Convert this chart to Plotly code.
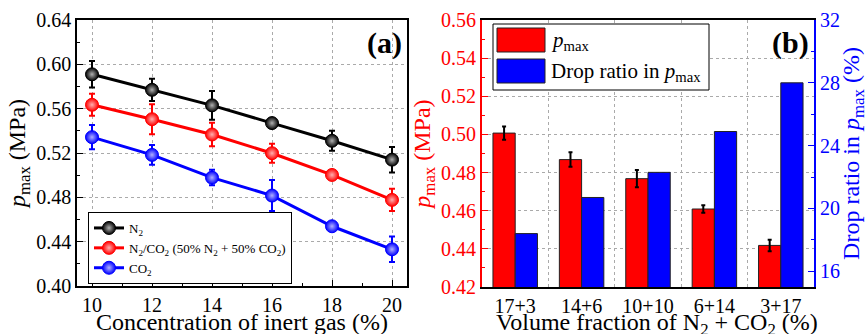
import plotly.graph_objects as go

# ---------------- data ----------------
conc = [10, 12, 14, 16, 18, 20]
n2 = [0.591, 0.577, 0.563, 0.547, 0.531, 0.514]
n2_err = [0.012, 0.010, 0.013, 0.0035, 0.009, 0.0115]
mix = [0.5635, 0.5505, 0.5367, 0.5198, 0.5002, 0.4777]
mix_err = [0.010, 0.0135, 0.0105, 0.0085, 0.003, 0.010]
co2 = [0.5343, 0.5183, 0.4978, 0.4816, 0.4539, 0.4331]
co2_err = [0.011, 0.009, 0.007, 0.014, 0.003, 0.0115]

frac_labels = ["17+3", "14+6", "10+10", "6+14", "3+17"]
pmax_b = [0.5007, 0.4868, 0.4768, 0.4609, 0.4418]
pmax_b_err = [0.0035, 0.0038, 0.0045, 0.002, 0.003]
drop_ratio = [18.4, 20.7, 22.3, 24.9, 28.0]

FONT = "Liberation Serif"
W, H = 868, 334


def px(x):
    return x / W


def py(y):
    return 1 - y / H


fig = go.Figure()

series = [
    (n2, n2_err, "black", "#b0b0b0", "N<sub>2</sub>"),
    (mix, mix_err, "#ff0000", "#ffb0b0", "N<sub>2</sub>/CO<sub>2</sub> (50% N<sub>2</sub> + 50% CO<sub>2</sub>)"),
    (co2, co2_err, "#0000ff", "#b0b0ff", "CO<sub>2</sub>"),
]
for vals, errs, col, hl, name in series:
    fig.add_trace(go.Scatter(
        x=conc, y=vals, name=name, mode="lines+markers",
        line=dict(color=col, width=3),
        marker=dict(size=13, color=col, symbol="circle",
                    gradient=dict(type="radial", color=hl),
                    line=dict(color=col, width=1)),
        error_y=dict(type="data", array=errs, visible=True, color=col,
                     thickness=2, width=3),
        xaxis="x", yaxis="y", legend="legend",
    ))

idx = list(range(len(frac_labels)))
fig.add_trace(go.Bar(
    x=idx, y=pmax_b, name="pmax", offset=-0.335, width=0.335,
    marker=dict(color="#ff0000", line=dict(color="#222222", width=1)),
    error_y=dict(type="data", array=pmax_b_err, visible=True, color="black",
                 thickness=2, width=2),
    xaxis="x2", yaxis="y3", showlegend=False,
))
fig.add_trace(go.Bar(
    x=idx, y=drop_ratio, name="Drop ratio", offset=0.0, width=0.335,
    marker=dict(color="#0000ff", line=dict(color="#222222", width=1)),
    xaxis="x2", yaxis="y4", showlegend=False,
))

grid = dict(showgrid=True, gridcolor="#aaaaaa", griddash="dot", gridwidth=1)
tickf = dict(family=FONT, size=20, color="black")
titlef = dict(family=FONT, size=24, color="black")

fig.update_layout(
    width=W, height=H,
    margin=dict(l=0, r=0, t=0, b=0),
    paper_bgcolor="white", plot_bgcolor="white",
    barmode="overlay",
    font=dict(family=FONT, color="black"),
    xaxis=dict(
        domain=[px(77), px(407)], range=[9.5, 20.5], anchor="y",
        tickvals=conc, ticks="inside", ticklen=6, tickcolor="black",
        showline=True, linecolor="black", linewidth=1.5, mirror=True,
        tickfont=tickf, automargin=False,
        minor=dict(tickvals=[11, 13, 15, 17, 19], ticks="inside", ticklen=3, tickcolor="black"),
        zeroline=False, **grid,
    ),
    yaxis=dict(
        domain=[py(286), py(20)], range=[0.40, 0.64], anchor="x",
        tick0=0.40, dtick=0.04, tickformat=".2f",
        ticks="inside", ticklen=6, tickcolor="black",
        showline=True, linecolor="black", linewidth=1.5, mirror=True,
        tickfont=tickf, automargin=False,
        minor=dict(tick0=0.42, dtick=0.04, ticks="inside", ticklen=3, tickcolor="black"),
        title=dict(text="<i>p</i><sub>max</sub> (MPa)", font=titlef, standoff=4),
        zeroline=False, **grid,
    ),
    xaxis2=dict(
        domain=[px(482), px(814)], range=[-0.5, 4.5], anchor="y3",
        tickvals=idx, ticktext=frac_labels, ticks="",
        showline=True, linecolor="black", linewidth=1.5, mirror=True,
        tickfont=tickf, automargin=False, showgrid=False, zeroline=False,
        minor=dict(tickvals=[0.5, 1.5, 2.5, 3.5], ticks="", showgrid=True,
                   gridcolor="#aaaaaa", griddash="dot", gridwidth=1),
    ),
    yaxis3=dict(
        domain=[py(287), py(20)], range=[0.42, 0.56], anchor="x2", side="left",
        tick0=0.42, dtick=0.02, tickformat=".2f",
        ticks="inside", ticklen=6, tickcolor="#ff0000",
        showline=True, linecolor="#ff0000", linewidth=2,
        tickfont=dict(family=FONT, size=20, color="#ff0000"), automargin=False,
        minor=dict(tick0=0.43, dtick=0.02, ticks="inside", ticklen=3, tickcolor="#ff0000"),
        title=dict(text="<i>p</i><sub>max</sub> (MPa)", font=dict(family=FONT, size=24, color="#ff0000"), standoff=4),
        zeroline=False, **grid,
    ),
    yaxis4=dict(
        range=[15, 32], anchor="x2", overlaying="y3", side="right",
        tickvals=[16, 20, 24, 28, 32],
        ticks="inside", ticklen=6, tickcolor="#0000ff",
        showline=True, linecolor="#0000ff", linewidth=2,
        tickfont=dict(family=FONT, size=20, color="#0000ff"), automargin=False,
        minor=dict(tickvals=[18, 22, 26, 30], ticks="inside", ticklen=3, tickcolor="#0000ff"),
        title=dict(text="Drop ratio in <i>p</i><sub>max</sub> (%)", font=dict(family=FONT, size=24, color="#0000ff"), standoff=6),
        showgrid=False, zeroline=False,
    ),
    legend=dict(
        x=px(88), y=py(212), xanchor="left", yanchor="top",
        bgcolor="white", bordercolor="black", borderwidth=1,
        font=dict(family=FONT, size=13, color="black"),
        tracegroupgap=0, itemwidth=30,
    ),
)

# X-axis titles (placed to match the reference, partly cut by the bottom edge)
fig.add_annotation(x=px(242), y=py(322), xref="paper", yref="paper", xanchor="center", yanchor="middle",
                   text="Concentration of inert gas (%)", showarrow=False, font=titlef)
fig.add_annotation(x=px(657), y=py(324), xref="paper", yref="paper", xanchor="center", yanchor="middle",
                   text="Volume fraction of N<sub>2</sub> + CO<sub>2</sub> (%)", showarrow=False, font=titlef)

# Panel labels
fig.add_annotation(x=px(384), y=py(43), xref="paper", yref="paper", text="<b>(a)</b>",
                   xanchor="center", yanchor="middle",
                   showarrow=False, font=dict(family=FONT, size=30, color="black"))
fig.add_annotation(x=px(790), y=py(43), xref="paper", yref="paper", text="<b>(b)</b>",
                   xanchor="center", yanchor="middle",
                   showarrow=False, font=dict(family=FONT, size=30, color="black"))

# Manual legend for panel (b)
fig.add_shape(type="rect", xref="paper", yref="paper", x0=px(493), x1=px(709), y0=py(90), y1=py(24),
              line=dict(color="black", width=1), fillcolor="white", layer="above")
fig.add_shape(type="rect", xref="paper", yref="paper", x0=px(497), x1=px(545), y0=py(52), y1=py(28),
              line=dict(color="#222222", width=1), fillcolor="#ff0000", layer="above")
fig.add_shape(type="rect", xref="paper", yref="paper", x0=px(497), x1=px(545), y0=py(83), y1=py(59),
              line=dict(color="#222222", width=1), fillcolor="#0000ff", layer="above")
fig.add_annotation(x=px(549), y=py(41), xref="paper", yref="paper", xanchor="left", yanchor="middle",
                   text="<i>p</i><sub>max</sub>", showarrow=False,
                   font=dict(family=FONT, size=21, color="black"))
fig.add_annotation(x=px(549), y=py(72), xref="paper", yref="paper", xanchor="left", yanchor="middle",
                   text="Drop ratio in <i>p</i><sub>max</sub>", showarrow=False,
                   font=dict(family=FONT, size=21, color="black"))

fig.write_html("out.html", config={"displayModeBar": False},
               post_script="document.body.style.margin='0px';")
